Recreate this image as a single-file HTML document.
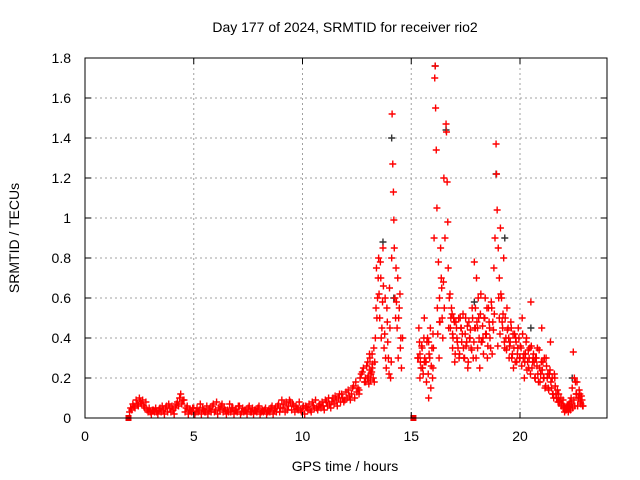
<!DOCTYPE html>
<html><head><meta charset="utf-8"><style>
body{margin:0;background:#fff}
svg{display:block;font-family:"Liberation Sans",sans-serif;font-size:14px}
</style></head><body>
<svg id="chart" width="640" height="480" viewBox="0 0 640 480" xmlns="http://www.w3.org/2000/svg">
<rect width="640" height="480" fill="#fff"/>
<g id="grid"></g>
<g id="pts"></g>
<g id="axes"></g>
<text x="345" y="32" text-anchor="middle">Day 177 of 2024, SRMTID for receiver rio2</text>
<text x="345" y="471" text-anchor="middle">GPS time / hours</text>
<text transform="translate(19,238) rotate(-90)" text-anchor="middle">SRMTID / TECUs</text>
</svg>
<script>
const xTicks=[0,5,10,15,20];
const yTicks=[0,0.2,0.4,0.6,0.8,1,1.2,1.4,1.6,1.8];
const yTickLabels=["0","0.2","0.4","0.6","0.8","1","1.2","1.4","1.6","1.8"];
const times=[2.1,2.25,2.4,2.55,2.7,2.85,3.0,3.15,3.3,3.45,3.6,3.75,3.9,4.05,4.2,4.35,4.5,4.65,4.8,4.95,5.1,5.25,5.4,5.55,5.7,5.85,6.0,6.15,6.3,6.45,6.6,6.75,6.9,7.05,7.2,7.35,7.5,7.65,7.8,7.95,8.1,8.25,8.4,8.55,8.7,8.85,9.0,9.15,9.3,9.45,9.6,9.75,9.9,10.05,10.2,10.35,10.5,10.65,10.8,10.95,
11.1,11.25,11.4,11.55,11.7,11.85,12.0,12.15,12.3,12.45,12.6,12.7,12.8,12.9,13.0,13.05,13.1,13.15,13.2,13.3,13.35,13.4,13.45,13.5,13.55,13.6,13.65,13.7,13.75,13.8,13.85,13.9,13.95,14.0,14.05,14.1,14.12,14.15,14.18,14.2,14.22,14.25,14.3,14.35,14.4,14.45,14.5,14.55,14.6,
15.3,15.35,15.4,15.45,15.5,15.55,15.6,15.65,15.7,15.75,15.8,15.85,15.9,15.95,16.0,16.05,16.08,16.1,16.12,16.15,16.18,16.2,16.25,16.3,16.35,16.4,16.45,16.5,16.55,16.6,16.62,16.65,16.68,16.7,16.75,16.8,16.85,16.9,16.95,17.0,17.1,17.2,17.3,17.4,17.5,17.6,17.7,17.8,17.85,17.9,17.95,18.0,18.05,18.1,18.15,18.2,18.3,18.4,18.5,18.6,18.7,18.8,18.85,18.9,18.92,18.95,19.0,19.05,19.1,19.15,19.2,19.25,19.3,19.4,19.5,19.6,19.7,19.8,19.9,20.0,20.1,20.2,20.3,20.4,20.5,20.6,20.7,20.8,20.9,21.0,21.1,21.2,21.3,21.4,21.5,21.6,21.7,21.8,21.9,22.0,22.1,22.2,22.3,22.4,22.45,22.5,22.6,22.7,22.8,22.9,
15.4,15.6,15.8,16.0,16.3,16.9,17.05,17.15,17.25,17.35,17.45,17.55,17.65,17.75,17.95,18.05,18.25,18.35,18.45,18.55,18.65,18.75,19.05,19.35,19.45,19.55,19.65,19.75,19.85,19.95,20.05,20.15,20.25,20.35,20.45,20.55,20.65,20.75,20.85,20.95,21.05,21.15,21.25,21.35,21.45,21.55,21.65,21.75,22.05,22.15,22.25,22.35,22.55,22.65,22.75,22.85,13.0,13.1,13.2,12.9,12.6,12.4,12.2,11.9];
const values=[0.05,0.06,0.07,0.08,0.06,0.04,0.03,0.04,0.03,0.05,0.04,0.06,0.05,0.04,0.07,0.1,0.09,0.05,0.04,0.05,0.03,0.04,0.05,0.03,0.04,0.06,0.04,0.05,0.07,0.04,0.03,0.05,0.04,0.06,0.03,0.04,0.05,0.03,0.04,0.05,0.03,0.04,0.03,0.05,0.04,0.06,0.05,0.07,0.04,0.08,0.06,0.05,0.04,0.06,0.05,0.04,0.06,0.05,0.07,0.06,
0.08,0.07,0.1,0.09,0.12,0.1,0.13,0.11,0.15,0.18,0.14,0.22,0.25,0.2,0.28,0.17,0.3,0.22,0.25,0.18,0.4,0.75,0.6,0.8,0.5,0.7,0.45,0.85,0.35,0.6,0.25,0.48,0.3,0.65,0.2,0.8,1.52,1.27,1.13,0.99,0.85,0.6,0.75,0.45,0.3,0.55,0.35,0.25,0.4,
0.3,0.45,0.2,0.25,0.35,0.22,0.5,0.28,0.18,0.4,0.1,0.3,0.15,0.35,0.25,0.9,1.7,1.76,1.55,1.34,1.05,0.55,0.78,0.6,0.85,0.65,0.4,1.2,0.9,1.47,1.43,1.18,0.98,0.75,0.6,0.45,0.55,0.35,0.5,0.28,0.4,0.3,0.45,0.35,0.5,0.25,0.4,0.55,0.3,0.78,0.45,0.7,0.35,0.5,0.25,0.62,0.4,0.6,0.3,0.45,0.55,0.75,0.9,1.37,1.22,1.04,0.85,0.7,0.95,0.6,0.45,0.8,0.35,0.55,0.3,0.45,0.25,0.4,0.35,0.3,0.5,0.2,0.4,0.25,0.58,0.3,0.2,0.35,0.25,0.45,0.2,0.3,0.15,0.38,0.12,0.2,0.1,0.08,0.06,0.05,0.04,0.06,0.08,0.15,0.33,0.2,0.12,0.1,0.07,0.06,
0.32,0.28,0.38,0.42,0.48,0.42,0.48,0.35,0.5,0.42,0.3,0.38,0.48,0.35,0.55,0.45,0.38,0.5,0.42,0.55,0.35,0.48,0.5,0.4,0.45,0.38,0.32,0.42,0.28,0.4,0.35,0.3,0.32,0.28,0.35,0.25,0.28,0.3,0.18,0.22,0.28,0.15,0.2,0.22,0.15,0.1,0.12,0.08,0.03,0.05,0.07,0.1,0.18,0.06,0.12,0.09,0.2,0.24,0.32,0.18,0.12,0.1,0.09,0.08];
const times2=[2.05,2.15,2.2,2.3,2.35,2.45,2.5,2.6,2.65,2.75,2.8,2.9,2.95,3.05,3.1,3.2,3.25,3.35,3.4,3.5,3.55,3.65,3.7,3.8,3.85,3.95,4.0,4.1,4.15,4.25,4.3,4.4,4.45,4.55,4.6,4.7,4.75,4.85,4.9,5.0,5.05,5.15,5.2,5.3,5.35,5.45,5.5,5.6,5.65,5.75,5.8,5.9,5.95,6.05,6.1,6.2,6.25,6.35,6.4,6.5,6.55,6.65,6.7,6.8,6.85,6.95,7.0,7.1,7.15,7.25,7.3,7.4,7.45,7.55,7.6,7.7,7.75,7.85,7.9,8.0,8.05,8.15,8.2,8.3,8.35,8.45,8.5,8.6,8.65,8.75,8.8,8.9,8.95,9.05,9.1,9.2,9.25,9.35,9.4,9.5,9.55,9.65,9.7,9.8,9.85,9.95,10.0,10.1,10.15,10.25,10.3,10.4,10.45,10.55,10.6,10.7,10.75,10.85,10.9,11.0,11.05,11.15,11.2,11.3,11.35,11.45,11.5,11.6,11.65,11.75,11.8,11.95,12.05,12.1,12.25,12.35,12.5,12.55,12.65,12.75,12.85,12.95,13.02,13.08,13.12,13.18,13.22,13.25,13.28,13.32,13.38,13.42,13.48,13.52,13.58,13.62,13.68,13.72,13.78,13.82,13.88,13.92,13.98,14.02,14.08,14.28,14.32,14.38,14.42,14.48,14.52,
15.32,15.38,15.42,15.48,15.52,15.58,15.62,15.68,15.72,15.78,15.82,15.88,15.92,15.98,16.02,16.22,16.28,16.32,16.38,16.42,16.48,16.52,16.72,16.78,16.82,16.88,16.92,16.98,17.02,17.08,17.12,17.18,17.22,17.28,17.32,17.38,17.42,17.48,17.52,17.58,17.62,17.68,17.72,17.78,17.82,17.88,17.92,17.98,18.02,18.08,18.12,18.18,18.22,18.28,18.32,18.38,18.42,18.48,18.52,18.58,18.62,18.68,18.72,18.78,18.82,18.98,19.02,19.08,19.12,19.18,19.22,19.28,19.32,19.38,19.42,19.48,19.52,19.58,19.62,19.68,19.72,19.78,19.82,19.88,19.92,19.98,20.02,20.08,20.12,20.18,20.22,20.28,20.32,20.38,20.42,20.48,20.52,20.58,20.62,20.68,20.72,20.78,20.82,20.88,20.92,20.98,21.02,21.08,21.12,21.18,21.22,21.28,21.32,21.38,21.42,21.48,21.52,21.58,21.62,21.68,21.72,21.78,21.82,21.88,21.92,21.98,22.02,22.08,22.12,22.18,22.22,22.28,22.32,22.38,22.42,22.48,22.52,22.58,22.62,22.68,22.72,22.78,22.82,22.88];
const values2=[0.03,0.04,0.07,0.05,0.09,0.06,0.1,0.07,0.09,0.05,0.08,0.03,0.05,0.02,0.04,0.03,0.05,0.02,0.04,0.03,0.06,0.02,0.05,0.03,0.07,0.03,0.06,0.02,0.05,0.08,0.06,0.12,0.07,0.09,0.03,0.06,0.02,0.04,0.03,0.05,0.02,0.05,0.03,0.07,0.02,0.04,0.03,0.06,0.02,0.05,0.03,0.07,0.03,0.08,0.02,0.04,0.06,0.03,0.05,0.02,0.04,0.07,0.03,0.05,0.02,0.04,0.03,0.06,0.02,0.05,0.03,0.04,0.02,0.06,0.03,0.05,0.02,0.04,0.03,0.06,0.02,0.04,0.03,0.05,0.02,0.04,0.03,0.06,0.02,0.05,0.03,0.07,0.03,0.09,0.05,0.03,0.08,0.06,0.09,0.04,0.07,0.03,0.06,0.04,0.08,0.03,0.05,0.02,0.06,0.04,0.07,0.03,0.08,0.05,0.09,0.04,0.06,0.05,0.08,0.04,0.09,0.06,0.1,0.05,0.08,0.07,0.11,0.06,0.1,0.08,0.12,0.09,0.1,0.14,0.12,0.16,0.13,0.15,0.2,0.23,0.18,0.26,0.21,0.32,0.19,0.23,0.27,0.2,0.35,0.28,0.55,0.5,0.7,0.62,0.78,0.4,0.58,0.66,0.42,0.3,0.55,0.38,0.22,0.45,0.28,0.5,0.58,0.7,0.5,0.62,0.4,0.3,0.38,0.28,
0.36,0.25,0.4,0.3,0.28,0.38,0.22,0.32,0.45,0.26,0.2,0.35,0.42,0.3,0.48,0.7,0.5,0.68,0.55,0.45,0.62,0.5,0.52,0.4,0.48,0.32,0.45,0.38,0.5,0.32,0.45,0.38,0.52,0.3,0.42,0.36,0.46,0.28,0.4,0.44,0.34,0.5,0.38,0.45,0.3,0.48,0.6,0.4,0.52,0.38,0.46,0.32,0.5,0.42,0.55,0.36,0.48,0.4,0.58,0.32,0.44,0.52,0.36,0.6,0.42,0.62,0.48,0.52,0.38,0.5,0.34,0.44,0.4,0.36,0.48,0.3,0.42,0.35,0.28,0.38,0.32,0.45,0.3,0.36,0.26,0.42,0.32,0.28,0.38,0.24,0.34,0.3,0.22,0.36,0.28,0.32,0.2,0.3,0.26,0.22,0.34,0.18,0.28,0.24,0.2,0.3,0.16,0.26,0.22,0.14,0.24,0.18,0.2,0.12,0.22,0.16,0.1,0.14,0.12,0.08,0.1,0.07,0.09,0.06,0.05,0.04,0.06,0.03,0.05,0.04,0.07,0.05,0.09,0.06,0.12,0.18,0.1,0.14,0.08,0.11,0.06,0.09,0.05,0.08,0.1,0.06];
const darkTimes=[13.7,14.1,16.1,16.6,18.9,19.3,17.9,20.5,22.4,14.2];
const darkValues=[0.88,1.4,1.76,1.44,1.22,0.9,0.58,0.45,0.2,0.6];
const zeroTimes=[2.0,15.1];

const L=85,R=607,T=58,B=418,XMAX=24,YMAX=1.8;
const xs=v=>L+(R-L)*v/XMAX, ys=v=>B-(B-T)*v/YMAX;
const NS="http://www.w3.org/2000/svg";
function mk(tag,attrs,parent){const e=document.createElementNS(NS,tag);for(const k in attrs)e.setAttribute(k,attrs[k]);parent.appendChild(e);return e;}
const grid=document.getElementById('grid'),axes=document.getElementById('axes'),pts=document.getElementById('pts');
xTicks.forEach(t=>{
  const x=xs(t);
  if(t>0){const g=mk('line',{x1:x,x2:x,y1:T,y2:B,stroke:'#a0a0a0','stroke-dasharray':'2,3'},grid);
  
  }
  mk('line',{x1:x,x2:x,y1:B,y2:B-6,stroke:'#000'},axes);
  mk('line',{x1:x,x2:x,y1:T,y2:T+6,stroke:'#000'},axes);
  const tx=mk('text',{x:x,y:B+23,'text-anchor':'middle'},axes);tx.textContent=t;
  
  
});
yTicks.forEach((t,i)=>{
  const y=ys(t);
  if(t>0&&t<YMAX){const g=mk('line',{x1:L,x2:R,y1:y,y2:y,stroke:'#a0a0a0','stroke-dasharray':'2,3'},grid);
  
  }
  mk('line',{x1:L,x2:L+6,y1:y,y2:y,stroke:'#000'},axes);
  mk('line',{x1:R,x2:R-6,y1:y,y2:y,stroke:'#000'},axes);
  const tx=mk('text',{x:L-14,y:y+5,'text-anchor':'end'},axes);tx.textContent=yTickLabels[i];
  
  
});
const border=mk('rect',{x:L,y:T,width:R-L,height:B-T,fill:'none',stroke:'#000'},axes);


function plus(t,v,color){
  const x=xs(t),y=ys(v);
  const p=mk('path',{d:`M${x-3.5},${y}h7M${x},${y-3.5}v7`,stroke:color,'stroke-width':1.4,fill:'none'},pts);
  
  
}
darkTimes.forEach((t,i)=>plus(t,darkValues[i],'#333'));
times2.forEach((t,i)=>plus(t,values2[i],'#f00'));
times.forEach((t,i)=>plus(t,values[i],'#f00'));
zeroTimes.forEach(t=>{
  const s=mk('rect',{x:xs(t)-3,y:ys(0)-3,width:6,height:6,fill:'#e00'},pts);
  
  
});
</script>
</body></html>
